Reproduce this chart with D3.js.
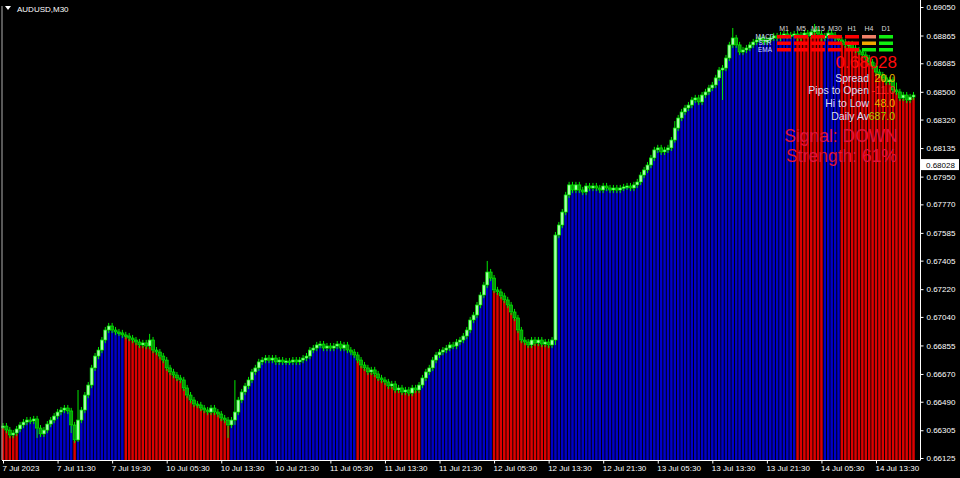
<!DOCTYPE html>
<html><head><meta charset="utf-8">
<script src="https://cdn.jsdelivr.net/npm/d3@7"></script>
<style>body{margin:0;background:#000;overflow:hidden}svg{display:block}text{font-family:"Liberation Sans",Arial,sans-serif}</style>
</head><body><svg id="c" width="960" height="478"></svg>
<script>
// ---- data ----
const closes = [
0.66332,0.66306,0.66274,0.66287,0.66313,0.66339,0.66358,0.66371,0.66365,0.66378,
0.66319,0.66281,0.66306,0.66345,0.66371,0.66397,0.66423,0.66436,0.66449,0.66430,
0.66339,0.66242,0.66371,0.66436,0.66533,0.66598,0.66709,0.66786,0.66825,0.66890,
0.66955,0.66981,0.66955,0.66942,0.66936,0.66923,0.66916,0.66903,0.66890,0.66877,
0.66858,0.66871,0.66851,0.66890,0.66825,0.66812,0.66786,0.66760,0.66709,0.66683,
0.66663,0.66644,0.66631,0.66579,0.66533,0.66501,0.66475,0.66469,0.66449,0.66436,
0.66423,0.66449,0.66423,0.66410,0.66384,0.66371,0.66339,0.66371,0.66423,0.66501,
0.66553,0.66592,0.66631,0.66683,0.66709,0.66748,0.66760,0.66773,0.66760,0.66773,
0.66748,0.66760,0.66748,0.66754,0.66748,0.66760,0.66748,0.66760,0.66773,0.66786,
0.66825,0.66838,0.66858,0.66864,0.66838,0.66851,0.66838,0.66851,0.66864,0.66838,
0.66858,0.66825,0.66812,0.66793,0.66760,0.66728,0.66709,0.66683,0.66696,0.66670,
0.66644,0.66631,0.66618,0.66592,0.66605,0.66566,0.66579,0.66553,0.66566,0.66546,
0.66579,0.66566,0.66598,0.66644,0.66683,0.66709,0.66760,0.66793,0.66812,0.66825,
0.66838,0.66858,0.66851,0.66877,0.66890,0.66916,0.66955,0.67020,0.67052,0.67117,
0.67182,0.67247,0.67331,0.67292,0.67215,0.67202,0.67176,0.67150,0.67117,0.67072,
0.67033,0.66955,0.66890,0.66877,0.66858,0.66890,0.66871,0.66890,0.66864,0.66877,
0.66858,0.66890,0.67571,0.67636,0.67720,0.67831,0.67896,0.67863,0.67896,0.67863,
0.67850,0.67889,0.67876,0.67889,0.67876,0.67863,0.67889,0.67876,0.67863,0.67876,
0.67863,0.67876,0.67883,0.67889,0.67876,0.67896,0.67915,0.67960,0.67993,0.68025,
0.68071,0.68123,0.68136,0.68110,0.68123,0.68136,0.68187,0.68265,0.68330,0.68369,
0.68395,0.68414,0.68447,0.68460,0.68434,0.68479,0.68499,0.68525,0.68544,0.68590,
0.68641,0.68654,0.68719,0.68804,0.68849,0.68804,0.68758,0.68771,0.68784,0.68804,
0.68823,0.68836,0.68849,0.68823,0.68836,0.68849,0.68862,0.68849,0.68868,0.68875,
0.68862,0.68868,0.68875,0.68849,0.68868,0.68881,0.68862,0.68888,0.68901,0.68875,
0.68849,0.68862,0.68881,0.68868,0.68849,0.68836,0.68823,0.68804,0.68810,0.68784,
0.68771,0.68758,0.68739,0.68719,0.68693,0.68667,0.68628,0.68609,0.68590,0.68564,
0.68577,0.68512,0.68499,0.68460,0.68479,0.68447,0.68466,0.68479
];
// histogram colour runs: [firstBar, lastBar, state]
const signalRuns = [[0,4,"down"],[5,20,"up"],[21,21,"down"],[22,35,"up"],[36,66,"down"],
  [67,103,"up"],[104,122,"down"],[123,143,"up"],[144,160,"down"],[161,232,"up"],
  [233,240,"down"],[241,245,"up"],[246,267,"down"]];
// notable wicks: [bar, high, low]
const wicks = [[10,null,0.66255],[20,null,0.66287],[22,0.66566,0.66229],[43,0.66930,null],[66,null,0.66255],
  [68,0.66630,0.66340],[142,0.67403,null],[162,null,0.66858],[197,0.68310,0.68170],[211,null,0.68447],[214,0.68914,null],
  [238,0.68940,null],[262,0.68560,null]];
const defaultWick = 0.0002;
const priceTicks = ["0.69050","0.68865","0.68685","0.68500","0.68320","0.68135","0.67950","0.67770",
  "0.67585","0.67405","0.67220","0.67040","0.66855","0.66670","0.66490","0.66305","0.66125"];
const currentPrice = "0.68028";
const timeLabelBars = [0,16,32,48,64,80,96,112,128,144,160,176,192,208,224,240,256];
const timeLabels = ["7 Jul 2023","7 Jul 11:30","7 Jul 19:30","10 Jul 05:30","10 Jul 13:30","10 Jul 21:30",
  "11 Jul 05:30","11 Jul 13:30","11 Jul 21:30","12 Jul 05:30","12 Jul 13:30","12 Jul 21:30",
  "13 Jul 05:30","13 Jul 13:30","13 Jul 21:30","14 Jul 05:30","14 Jul 13:30"];
const symbolTitle = "AUDUSD,M30";
const tfNames = ["M1","M5","M15","M30","H1","H4","D1"];
const rowNames = ["MACD","STR","EMA"];
const tfStates = [["dn","dn","dn"],["dn","dn","dn"],["dn","dn","dn"],["dn","dn","dn"],
  ["dn","dn","dn"],["weak","mid","up"],["up","up","up"]];
const infoLabels = ["Spread","Pips to Open","Hi to Low","Daily Av"];
const infoValues = ["20.0","-11.0","48.0","687.0"];
const infoKinds = ["warn","dn","warn","avg"];
const signalText = "Signal: DOWN";
const strengthText = "Strength: 61%";

// ---- build ----
const bars = closes.map((c,i)=>{
  const o = i===0 ? c : closes[i-1];
  let h = Math.max(o,c)+defaultWick, l = Math.min(o,c)-defaultWick;
  const w = wicks.find(d=>d[0]===i);
  if (w){ if(w[1]!==null) h=w[1]; if(w[2]!==null) l=w[2]; }
  return {i,o,c,h,l};
});
const stateOf = i => signalRuns.find(r=>i>=r[0]&&i<=r[1])[2];

const svg = d3.select("#c");
svg.append("rect").attr("width",960).attr("height",478).attr("fill","#000");

const plotL=2, plotR=920, plotB=460;
const x = d3.scaleLinear().domain([0,256]).range([3,876]);
const y = d3.scaleLinear().domain([0.66125,0.69050]).range([458,7]);

const gPlot = svg.append("g");
gPlot.selectAll("rect.h").data(bars).join("rect")
  .attr("x",d=>x(d.i)-1.25).attr("width",2.5)
  .attr("y",d=>y(Math.min(d.o,d.c))+1).attr("height",d=>plotB-y(Math.min(d.o,d.c))-1)
  .attr("fill",d=>stateOf(d.i)==="up"?"#0000c8":"#dc0000");
gPlot.selectAll("line.w").data(bars).join("line")
  .attr("x1",d=>x(d.i)).attr("x2",d=>x(d.i))
  .attr("y1",d=>y(d.h)).attr("y2",d=>y(d.l))
  .attr("stroke","#00e800").attr("stroke-width",1);
gPlot.selectAll("rect.b").data(bars).join("rect")
  .attr("x",d=>x(d.i)-1.5).attr("width",3)
  .attr("y",d=>y(Math.max(d.o,d.c))).attr("height",d=>Math.max(1.5,y(Math.min(d.o,d.c))-y(Math.max(d.o,d.c))))
  .attr("fill",d=>d.c>=d.o?"#a8ffa8":"#0a9a0a")
  .attr("stroke","#00f000").attr("stroke-width",0.7);

// frame
svg.append("line").attr("x1",plotL).attr("x2",plotL).attr("y1",6).attr("y2",plotB).attr("stroke","#b0b0b0");
svg.append("line").attr("x1",plotR+0.5).attr("x2",plotR+0.5).attr("y1",0).attr("y2",plotB).attr("stroke","#ffffff");
svg.append("line").attr("x1",plotL).attr("x2",plotR+0.5).attr("y1",plotB+0.5).attr("y2",plotB+0.5).attr("stroke","#ffffff");

// right axis
const ya = svg.append("g").attr("transform",`translate(${plotR+0.5},0)`)
  .call(d3.axisRight(y).tickValues(priceTicks.map(Number)).tickSize(3).tickPadding(3).tickFormat(d3.format(".5f")));
ya.select(".domain").remove();
ya.selectAll("line").attr("stroke","#fff");
ya.selectAll("text").attr("fill","#fff").attr("font-size",8).attr("font-family","Liberation Sans, Arial, sans-serif");

// current price box
const cpY = y(+currentPrice);
svg.append("rect").attr("x",921).attr("y",cpY-5.5).attr("width",38).attr("height",11).attr("fill","#fff");
svg.append("text").attr("x",926).attr("y",cpY+3).attr("font-size",8).attr("fill","#000").text(currentPrice);

// bottom axis
const xa = svg.append("g").attr("transform",`translate(0,${plotB+0.5})`)
  .call(d3.axisBottom(x).tickValues(timeLabelBars).tickSize(3).tickFormat((d,k)=>timeLabels[k]));
xa.select(".domain").remove();
xa.selectAll("line").attr("stroke","#fff");
xa.selectAll("text").attr("fill","#fff").attr("font-size",8).attr("text-anchor","start").attr("dx",-1).attr("dy","0.5em")
  .attr("font-family","Liberation Sans, Arial, sans-serif");

// title
svg.append("path").attr("d","M5,6 L11,6 L8,10 Z").attr("fill","#fff");
svg.append("text").attr("x",17).attr("y",12).attr("font-size",8).attr("fill","#fff").text(symbolTitle);

// MTF panel
const colX = d3.scalePoint().domain(tfNames).range([784,886]);
const rowY = d3.scalePoint().domain(rowNames).range([35,48]);
const stateColor = {dn:"#ff0000",up:"#10ee10",weak:"#f08068",mid:"#f0a800"};
const gp = svg.append("g");
gp.selectAll("text.tf").data(tfNames).join("text").attr("x",d=>colX(d)).attr("y",31)
  .attr("text-anchor","middle").attr("font-size",7).attr("fill","#d8d8d8").text(d=>d);
gp.selectAll("text.rn").data(rowNames).join("text").attr("x",765).attr("y",d=>rowY(d)+3.6)
  .attr("text-anchor","middle").attr("font-size",6.4).attr("fill","#d8dcff").text(d=>d);
tfNames.forEach((tf,ci)=>{
  rowNames.forEach((rn,ri)=>{
    gp.append("rect").attr("x",colX(tf)-7).attr("y",rowY(rn)).attr("width",14).attr("height",3.5)
      .attr("fill",stateColor[tfStates[ci][ri]]);
  });
});

// price & info
svg.append("text").attr("x",897).attr("y",68).attr("text-anchor","end").attr("font-size",17)
  .attr("fill","#ff0a0a").text(currentPrice);
const valColor = {warn:"#f0b400",dn:"#ff2a2a",avg:"#a8d000"};
const iy = d3.scalePoint().domain(infoLabels).range([81.5,120]);
svg.selectAll("text.il").data(infoLabels).join("text").attr("x",869).attr("y",d=>iy(d))
  .attr("text-anchor","end").attr("font-size",10.5).attr("fill","#dcdcf4").text(d=>d);
svg.selectAll("text.iv").data(infoLabels).join("text").attr("x",895).attr("y",d=>iy(d))
  .attr("text-anchor","end").attr("font-size",10.5).attr("fill",(d,k)=>valColor[infoKinds[k]]).text((d,k)=>infoValues[k]);
svg.append("text").attr("x",898).attr("y",142).attr("text-anchor","end").attr("font-size",17.5)
  .attr("fill","#dc143c").text(signalText);
svg.append("text").attr("x",897).attr("y",161.5).attr("text-anchor","end").attr("font-size",17.5)
  .attr("fill","#dc143c").text(strengthText);
</script></body></html>
